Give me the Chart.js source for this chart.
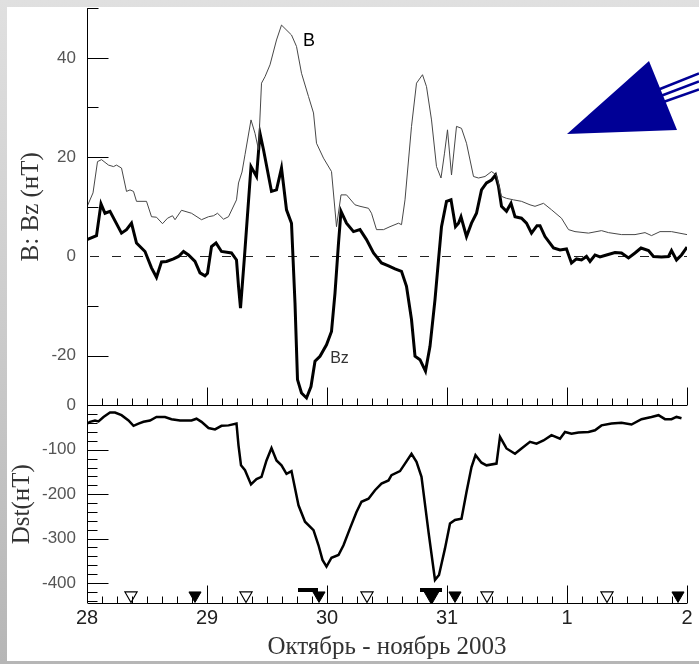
<!DOCTYPE html>
<html>
<head>
<meta charset="utf-8">
<script src="https://cdn.jsdelivr.net/npm/chart.js@4.4.1/dist/chart.umd.min.js"></script>
<style>
  html, body { margin: 0; padding: 0; }
  body { width: 699px; height: 664px; overflow: hidden; position: relative;
         background: linear-gradient(to bottom, #e0e0e0, #b6b6b6); }
  #sheet { position: absolute; left: 7px; top: 7px; width: 692px; height: 654px; background: #fff; }
  #chart { position: absolute; left: 0; top: 0; }
</style>
</head>
<body>
<div id="sheet"></div>
<canvas id="chart" width="699" height="664"></canvas>
<script>
// hours counted from 28 Oct 00:00 UT
const dayLabels = ['28', '29', '30', '31', '1', '2'];
const bTickLabels = [-20, 0, 20, 40];
const dstTickLabels = [-400, -300, -200, -100, 0];

const bHours = [0, 1.2, 2.1, 2.9, 4.3, 5.3, 5.9, 6.9, 7.9, 8.6, 9.3, 9.9, 11.9, 12.9, 13.9, 15.1, 16.1, 17.1, 17.6, 18.9,
  20.9, 22.9, 24.3, 25.3, 26.1, 27.3, 28.3, 29.9, 30.3, 31.0, 31.6, 32.8, 33.6, 34.3, 34.9, 35.6, 36.6, 37.9, 38.9, 40.9,
  41.9, 42.9, 44.3, 45.3, 45.9, 47.3, 48.9, 49.9, 50.8, 51.9, 53.6, 54.6, 56.3, 56.9, 57.9, 59.3, 60.6, 62.3, 62.9, 63.6,
  64.9, 65.9, 67.1, 67.9, 68.9, 69.9, 70.8, 71.5, 72.1, 72.9, 73.9, 74.9, 75.9, 77.3, 78.3, 79.6, 80.9, 81.9, 82.9, 83.9,
  85.3, 86.9, 88.6, 89.6, 91.3, 92.9, 94.9, 96.3, 97.6, 100.3, 102.9, 104.3, 106.9, 109.6, 111.6, 112.9, 114.6, 116.9, 120];
const bValues = [10, 12.8, 19.1, 19.5, 18.4, 18.1, 18.4, 17.8, 13.1, 13.4, 13.1, 11.1, 11.1, 8.0, 7.9, 6.6, 7.7, 8.2, 7.4, 9.3,
  8.7, 7.4, 8.0, 8.2, 8.7, 7.5, 8.0, 11.4, 14.8, 17.0, 20.5, 27.5, 24.8, 21.5, 34.9, 36.2, 38.6, 43.6, 46.6, 44.6,
  42.3, 36.9, 32.2, 28.9, 22.8, 19.8, 17.1, 6.0, 12.4, 12.4, 10.4, 10.1, 9.7, 8.7, 5.4, 5.4, 6.0, 6.7, 6.4, 11.4,
  26.2, 34.9, 36.6, 34.2, 27.5, 18.1, 15.8, 20.8, 25.5, 16.4, 26.2, 25.8, 22.8, 16.1, 15.8, 16.1, 17.1, 16.4, 12.1, 11.7,
  11.4, 11.1, 10.4, 10.1, 10.7, 9.4, 7.7, 5.4, 5.0, 4.7, 5.2, 4.8, 4.4, 4.4, 4.8, 4.2, 5.0, 5.0, 4.4];

const bzHours = [0, 1.9, 2.8, 3.6, 4.6, 6.9, 7.9, 8.9, 9.9, 11.6, 12.9, 13.9, 14.9, 15.9, 17.3, 18.3, 19.3, 20.3, 21.6, 22.6,
  23.6, 24.1, 24.9, 25.8, 26.9, 28.9, 29.9, 30.3, 30.7, 31.5, 32.8, 33.9, 34.6, 35.3, 36.9, 37.9, 38.9, 39.9, 40.9, 41.6,
  42.1, 42.9, 43.9, 44.8, 45.6, 46.6, 47.9, 48.9, 49.6, 50.3, 50.8, 51.9, 53.3, 54.6, 55.9, 57.3, 58.9, 60.3, 61.6, 62.9,
  63.9, 64.9, 65.6, 66.6, 67.7, 68.6, 69.6, 70.3, 70.9, 71.9, 72.8, 73.7, 74.3, 74.8, 75.9, 76.9, 77.9, 78.9, 79.9, 80.9,
  81.7, 82.3, 82.9, 83.9, 84.8, 85.6, 86.9, 87.9, 88.9, 90.0, 90.6, 91.6, 93.3, 94.6, 95.9, 96.9, 97.9, 98.9, 99.9, 100.6,
  101.6, 102.6, 103.9, 105.6, 106.9, 108.3, 109.6, 110.8, 112.3, 113.3, 114.9, 116.3, 116.9, 117.9, 118.9, 120];
const bzValues = [3.4, 4.2, 10.6, 8.7, 9.1, 4.7, 5.4, 6.7, 2.7, 1.0, -2.3, -4.2, -1.1, -1.0, -0.5, 0, 1.0, 0.3, -1.0, -3.3,
  -3.9, -3.4, 2.0, 2.7, 1.0, 0.7, -0.7, -6.0, -10.4, 0, 18.1, 16.1, 24.8, 21.5, 13.1, 13.4, 17.8, 9.4, 6.7, -9.4,
  -24.8, -27.5, -28.5, -26.2, -21.1, -20.1, -17.8, -15.1, -7.4, 2.7, 9.1, 6.7, 5.0, 5.4, 3.4, 0.7, -1.3, -1.9, -2.5, -3.0,
  -6.0, -12.7, -20.1, -20.8, -23.1, -18.1, -8.7, -0.7, 6.0, 11.1, 11.4, 6.0, 6.7, 8.0, 4.0, 6.7, 8.7, 13.4, 14.8, 15.4,
  16.4, 14.1, 10.1, 9.1, 10.7, 8.0, 7.7, 6.7, 4.7, 6.2, 6.2, 4.0, 1.7, 1.3, 1.5, -1.3, -0.5, -0.7, 0, -1.0,
  0.3, -0.1, 0.3, 0.8, 0.7, -0.3, 0.7, 1.7, 1.2, 0, -0.1, 0, 1.2, -0.7, 0.3, 1.9];

const dstHours = [0, 0.6, 1.6, 2.3, 3.3, 4.6, 5.6, 6.9, 8.3, 9.3, 10.3, 11.3, 12.6, 13.9, 15.6, 16.9, 18.6, 20.9, 21.9, 22.9,
  24.3, 25.6, 26.9, 28.3, 29.9, 30.3, 30.8, 31.6, 32.8, 33.9, 34.9, 35.9, 36.9, 37.9, 38.9, 39.9, 40.9, 42.3, 43.6, 45.3,
  46.3, 47.1, 47.9, 48.9, 50.3, 51.3, 52.6, 53.9, 54.9, 56.3, 57.6, 58.9, 60.3, 60.9, 62.6, 63.6, 64.9, 65.9, 66.9, 68.3,
  69.6, 70.4, 71.6, 72.6, 73.6, 74.9, 75.9, 76.9, 77.7, 78.9, 79.9, 81.9, 82.6, 83.9, 85.6, 86.9, 88.6, 89.9, 91.3, 92.9,
  94.6, 95.6, 96.9, 98.3, 100.3, 101.6, 102.9, 104.9, 106.9, 108.9, 110.9, 112.9, 114.3, 115.6, 116.9, 117.9, 118.9];
const dstValues = [-41, -37, -34, -36, -26, -16, -16, -22, -34, -46, -41, -37, -34, -26, -26, -31, -34, -34, -30, -37,
  -51, -54, -46, -45, -41, -90, -135, -146, -178, -166, -161, -124, -96, -124, -135, -154, -148, -225, -262, -281,
  -315, -348, -363, -343, -337, -315, -277, -240, -217, -210, -191, -176, -169, -157, -148, -131, -109, -127, -161, -285,
  -393, -382, -322, -266, -258, -255, -195, -139, -112, -129, -135, -131, -71, -97, -109, -97, -82, -86, -79, -67,
  -75, -60, -64, -61, -60, -56, -45, -41, -39, -43, -31, -26, -22, -31, -31, -26, -29];

// event marks along the bottom of the Dst panel
const openMarkHours = [8.8, 31.8, 56, 80, 104];
const filledMarkHours = [21.6, 46.4, 68.9, 73.6, 118.2];
const barMarkHours = [[42.2, 46.2], [66.6, 71.0]];
const markLevel = -428;
const barLevel = -416;

const pts = (xs, ys) => xs.map((x, i) => ({ x, y: ys[i] }));
const tickFont = { family: 'Liberation Sans', size: 17 };
const serif = 'Liberation Serif';
const noPad = s => { s.paddingTop = 0; s.paddingBottom = 0; s.paddingLeft = 0; s.paddingRight = 0; };

const datasets = [
  { data: pts(bHours, bValues), yAxisID: 'yB', borderColor: '#474747', borderWidth: 1 },
  { data: pts(bzHours, bzValues), yAxisID: 'yB', borderColor: '#000', borderWidth: 3 },
  { data: pts(dstHours, dstValues), yAxisID: 'yD', borderColor: '#000', borderWidth: 2.5 },
  { data: openMarkHours.map(x => ({ x, y: markLevel })), yAxisID: 'yD', showLine: false,
    pointStyle: 'triangle', rotation: 180, pointRadius: 7, backgroundColor: '#fff', borderColor: '#000', borderWidth: 1.2 },
  { data: filledMarkHours.map(x => ({ x, y: markLevel })), yAxisID: 'yD', showLine: false,
    pointStyle: 'triangle', rotation: 180, pointRadius: c => c.dataIndex === 2 ? 9 : 7,
    backgroundColor: '#000', borderColor: '#000', borderWidth: 1 }
];
barMarkHours.forEach(([a, b]) => datasets.push({
  data: [{ x: a, y: barLevel }, { x: b, y: barLevel }], yAxisID: 'yD', borderColor: '#000', borderWidth: 4
}));

const frame = {
  id: 'frame',
  beforeDatasetsDraw(chart) {
    const { ctx, chartArea: a, scales: { yB } } = chart;
    const y0 = Math.round(yB.getPixelForValue(0)) + 0.5;
    ctx.save();
    ctx.strokeStyle = '#222';
    ctx.lineWidth = 1;
    ctx.setLineDash([9, 13]);
    ctx.beginPath(); ctx.moveTo(a.left + 3, y0); ctx.lineTo(a.right, y0); ctx.stroke();
    ctx.restore();
  },
  afterDatasetsDraw(chart) {
    const { ctx, chartArea: a, scales: { x, yB, yD } } = chart;
    const line = (x1, y1, x2, y2) => { ctx.beginPath(); ctx.moveTo(x1, y1); ctx.lineTo(x2, y2); ctx.stroke(); };
    ctx.save();
    ctx.strokeStyle = '#000';
    ctx.lineWidth = 1;
    const L = Math.round(a.left) + 0.5;
    const mid = Math.round(yB.getPixelForValue(yB.min)) + 0.5;
    const bot = Math.round(a.bottom) + 0.5;
    line(L, a.top, L, a.bottom);
    line(L, mid, a.right, mid);
    line(L, bot, a.right, bot);
    for (let h = 3; h <= x.max; h += 3) {
      const px = Math.round(x.getPixelForValue(h)) + 0.5;
      const len = h % 24 === 0 ? 18 : 7;
      line(px, mid, px, mid - len);
      line(px, bot, px, bot - len);
    }
    for (let v = -20; v <= yB.max; v += 10) {
      if (v === 0) continue;
      const py = Math.round(yB.getPixelForValue(v)) + 0.5;
      line(L, py, L + (v % 20 === 0 ? 21 : 11), py);
    }
    for (let v = -440; v < 0; v += 20) {
      const py = Math.round(yD.getPixelForValue(v)) + 0.5;
      line(L, py, L + (v % 100 === 0 ? 21 : 10), py);
    }

    // curve labels
    ctx.textAlign = 'center';
    ctx.textBaseline = 'middle';
    ctx.fillStyle = '#000';
    ctx.font = '18px "Liberation Sans"';
    ctx.fillText('B', x.getPixelForValue(44.4), yB.getPixelForValue(43.4));
    ctx.fillStyle = '#333';
    ctx.font = '16px "Liberation Sans"';
    ctx.fillText('Bz', x.getPixelForValue(50.5), yB.getPixelForValue(-20.6));

    // decorative arrow, top right
    ctx.fillStyle = '#000096';
    ctx.strokeStyle = '#000096';
    ctx.beginPath();
    ctx.moveTo(567, 134); ctx.lineTo(649, 61); ctx.lineTo(677, 130); ctx.closePath();
    ctx.fill();
    ctx.lineWidth = 2.5;
    line(655, 91, 699, 73.5);
    line(658, 97, 699, 81.5);
    line(662, 102.5, 699, 89.5);
    ctx.restore();
  }
};

new Chart(document.getElementById('chart'), {
  type: 'line',
  data: { datasets },
  plugins: [frame],
  options: {
    responsive: false,
    animation: false,
    devicePixelRatio: 1,
    layout: { padding: { top: 7, right: 12, left: 0, bottom: 0 } },
    elements: { line: { tension: 0 }, point: { radius: 0 } },
    plugins: { legend: { display: false }, tooltip: { enabled: false } },
    scales: {
      x: {
        type: 'linear', position: 'bottom', min: 0, max: 120,
        afterBuildTicks: s => { s.ticks = dayLabels.map((_, i) => ({ value: i * 24 })); },
        afterFit: s => { s.height = 61; noPad(s); },
        ticks: { callback: (v, i) => dayLabels[i], font: { family: 'Liberation Sans', size: 20 }, color: '#222',
          padding: 3, maxRotation: 0, autoSkip: false },
        grid: { display: false, drawTicks: false },
        border: { display: false },
        title: { display: true, text: 'Октябрь - ноябрь 2003', font: { family: serif, size: 25 }, color: '#333',
          padding: { top: 0, bottom: 2 } }
      },
      yD: {
        type: 'linear', position: 'left', stack: 'panels', stackWeight: 198, min: -445, max: 0,
        afterBuildTicks: s => { s.ticks = dstTickLabels.map(v => ({ value: v })); },
        afterFit: s => { s.width = 87; noPad(s); },
        ticks: { font: tickFont, color: '#555', padding: 11 },
        grid: { display: false, drawTicks: false },
        border: { display: false },
        title: { display: true, text: 'Dst(нТ)', font: { family: serif, size: 25 }, color: '#333', padding: { top: 7 } }
      },
      yB: {
        type: 'linear', position: 'left', stack: 'panels', stackWeight: 398, min: -30, max: 50,
        afterBuildTicks: s => { s.ticks = bTickLabels.map(v => ({ value: v })); },
        afterFit: s => { s.width = 87; noPad(s); },
        ticks: { font: tickFont, color: '#555', padding: 11 },
        grid: { display: false, drawTicks: false },
        border: { display: false },
        title: { display: true, text: 'B: Bz (нТ)', font: { family: serif, size: 25 }, color: '#333', padding: { top: 16 } }
      }
    }
  }
});
</script>
</body>
</html>
